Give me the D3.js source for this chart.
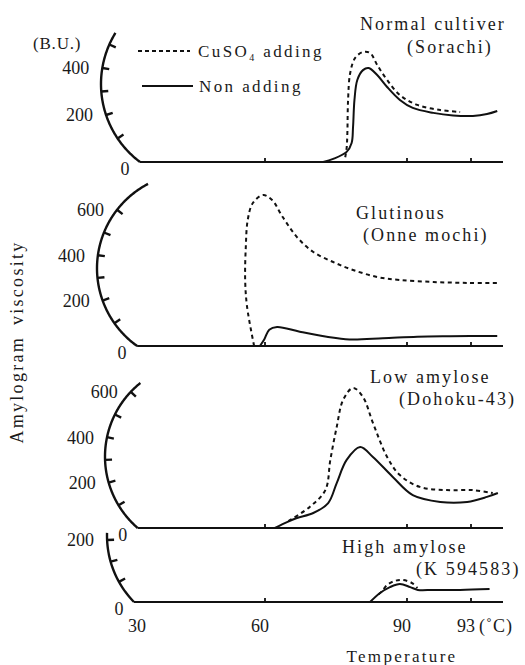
<!DOCTYPE html>
<html>
<head>
<meta charset="utf-8">
<script src="https://cdn.jsdelivr.net/npm/d3@7"></script>
<style>
  body { margin: 0; background: #fff; }
  text { font-family: "Liberation Serif", "Times New Roman", serif; fill: #1a1a1a; }
</style>
</head>
<body>
<script>
// x values are minutes of the amylograph run, labelled by temperature
var tickMinutes = [0, 20, 40, 50];
var tickLabels = ["30", "60", "90", "93"];

// [minute, B.U.]
var sorachiCu = [[31.3, 20], [31.5, 60], [31.6, 123], [31.7, 264], [32.0, 379], [32.7, 443], [33.8, 468], [34.8, 464], [35.8, 413], [37.2, 349], [39.0, 285], [41.6, 243], [45.2, 221], [48.3, 213]];
var sorachiNon = [[28.2, 0], [29.6, 13], [31.5, 43], [32.2, 81], [32.4, 149], [32.6, 264], [33.0, 349], [33.8, 391], [34.6, 400], [35.8, 370], [37.2, 319], [39.0, 264], [40.9, 230], [44.1, 209], [47.2, 198], [50.3, 196], [52.5, 204], [54.1, 217]];

var mochiCu = [[18.3, 0], [17.2, 172], [16.9, 291], [17.0, 436], [17.3, 555], [18.1, 630], [19.7, 665], [21.0, 643], [22.5, 568], [24.5, 480], [26.8, 414], [29.6, 370], [32.4, 335], [35.8, 304], [39.0, 291], [44.1, 282], [49.4, 278], [54.5, 278]];
var mochiNon = [[19.2, 0], [19.9, 30], [20.6, 72], [21.7, 84], [24.9, 63], [28.7, 41], [31.9, 29], [36.6, 34], [41.6, 41], [46.7, 43], [54.1, 44]];

var dohokuCu = [[23.3, 30], [26.3, 93], [28.5, 167], [29.2, 300], [30.1, 445], [31.0, 564], [32.4, 617], [33.8, 577], [35.2, 463], [37.2, 313], [39.0, 233], [42.0, 181], [46.2, 167], [50.3, 167], [53.4, 154]];
var dohokuNon = [[21.4, 0], [23.1, 26], [24.5, 44], [26.8, 66], [28.9, 110], [30.1, 198], [31.5, 300], [33.4, 357], [35.2, 313], [38.0, 225], [40.9, 145], [45.2, 115], [49.4, 115], [52.5, 137], [54.2, 154]];

var kCu = [[36.0, 25], [36.5, 35], [37.2, 55], [38.3, 68], [39.4, 71], [40.8, 61], [41.6, 45]];
var kNon = [[34.8, 0], [36.2, 29], [37.6, 48], [39.0, 58], [40.5, 48], [41.7, 39], [44.1, 39], [48.3, 39], [52.9, 42]];

// B.U. ticks along each curved axis
var ticks1 = [100, 200, 300, 400, 500], labels1 = [200, 400];
var ticks2 = [100, 200, 300, 400, 500, 600], labels2 = [200, 400, 600];
var ticks3 = [100, 200, 300, 400, 500, 600], labels3 = [200, 400, 600];
var ticks4 = [65, 130, 200], labels4 = [200];

var width = 525, height = 665;

var svg = d3.select("body").append("svg")
    .attr("width", width)
    .attr("height", height);

var x = d3.scaleLinear()
    .domain(tickMinutes)
    .range([137, 265, 407, 471]);

// layout of the four strips: baseline, where 200 B.U. sits, and the pen arc
var panels = [
  { base: 162, at200: 115, top: 549, cx: 198.5, cy: 84, r: 97.5, ticks: ticks1, labels: labels1, cu: sorachiCu, non: sorachiNon,
    name: ["Normal cultiver", "(Sorachi)"], nameX: [360, 407], nameY: [30, 53] },
  { base: 346, at200: 300.6, top: 714, cx: 192.3, cy: 268.3, r: 95.3, ticks: ticks2, labels: labels2, cu: mochiCu, non: mochiNon,
    name: ["Glutinous", "(Onne mochi)"], nameX: [356, 363], nameY: [219, 241] },
  { base: 528, at200: 482.6, top: 639, cx: 199.3, cy: 456.6, r: 94.3, ticks: ticks3, labels: labels3, cu: dohokuCu, non: dohokuNon,
    name: ["Low amylose", "(Dohoku-43)"], nameX: [370, 399], nameY: [383, 405] },
  { base: 602, at200: 540, top: 223, cx: 202, cy: 535.7, r: 95, ticks: ticks4, labels: labels4, cu: kCu, non: kNon,
    name: ["High amylose", "(K 594583)"], nameX: [342, 416], nameY: [553, 575] }
];

panels.forEach(function(p) {
  var y = d3.scaleLinear().domain([0, 200]).range([p.base, p.at200]);
  var g = svg.append("g");

  function arcX(v) {
    var dy = y(v) - p.cy;
    return p.cx - Math.sqrt(p.r * p.r - dy * dy);
  }
  function inward(v) {
    return Math.atan2(y(v) - p.cy, arcX(v) - p.cx);
  }

  // curved viscosity axis
  var arcPts = d3.range(0, p.top, 4).concat([p.top]);
  g.append("path")
    .datum(arcPts)
    .attr("fill", "none")
    .attr("stroke", "#111")
    .attr("stroke-width", 2.4)
    .attr("d", d3.line().x(function(v) { return arcX(v); }).y(function(v) { return y(v); }));

  g.selectAll(".tk").data(p.ticks).enter().append("line")
    .attr("class", "tk")
    .attr("stroke", "#111")
    .attr("stroke-width", 2.4)
    .attr("x1", function(v) { return arcX(v); })
    .attr("y1", function(v) { return y(v); })
    .attr("x2", function(v) { return arcX(v) - 7 * Math.cos(inward(v)); })
    .attr("y2", function(v) { return y(v) - 7 * Math.sin(inward(v)); });

  g.selectAll(".lb").data(p.labels).enter().append("text")
    .attr("class", "lb")
    .attr("x", function(v) { return arcX(v) - 13; })
    .attr("y", function(v) { return y(v); })
    .attr("dy", "0.35em")
    .attr("text-anchor", "end")
    .style("font-size", "18px")
    .text(function(v) { return v; });

  var x0 = arcX(0);
  g.append("text")
    .attr("x", x0 - 15)
    .attr("y", p.base + 7)
    .attr("dy", "0.35em")
    .attr("text-anchor", "middle")
    .style("font-size", "18px")
    .text("0");

  // baseline with temperature ticks
  g.append("line")
    .attr("x1", x0).attr("x2", x(55))
    .attr("y1", p.base).attr("y2", p.base)
    .attr("stroke", "#111").attr("stroke-width", 2);

  g.selectAll(".bt").data(tickMinutes.slice(1)).enter().append("line")
    .attr("class", "bt")
    .attr("x1", function(d) { return x(d); })
    .attr("x2", function(d) { return x(d); })
    .attr("y1", p.base + 1).attr("y2", p.base - 4)
    .attr("stroke", "#111").attr("stroke-width", 1.8);

  var line = d3.line()
    .x(function(d) { return x(d[0]); })
    .y(function(d) { return y(d[1]); })
    .curve(d3.curveCatmullRom.alpha(0.5));

  g.append("path")
    .datum(p.non)
    .attr("fill", "none")
    .attr("stroke", "#111")
    .attr("stroke-width", 2)
    .attr("d", line);

  g.append("path")
    .datum(p.cu)
    .attr("fill", "none")
    .attr("stroke", "#111")
    .attr("stroke-width", 2)
    .attr("stroke-dasharray", "4,3.5")
    .attr("d", line);

  p.name.forEach(function(s, i) {
    g.append("text")
      .attr("x", p.nameX[i])
      .attr("y", p.nameY[i])
      .style("font-size", "18px")
      .style("letter-spacing", "2.1px")
      .text(s);
  });
});

// unit and legend
svg.append("text")
  .attr("x", 33).attr("y", 49)
  .style("font-size", "17px")
  .style("letter-spacing", "0.8px")
  .text("(B.U.)");

svg.append("line")
  .attr("x1", 138).attr("x2", 190).attr("y1", 51).attr("y2", 51)
  .attr("stroke", "#111").attr("stroke-width", 2).attr("stroke-dasharray", "4,3");
var cuText = svg.append("text")
  .attr("x", 198).attr("y", 57)
  .style("font-size", "17px")
  .style("letter-spacing", "2.4px");
cuText.append("tspan").text("CuSO");
cuText.append("tspan").attr("dy", 4).style("font-size", "10px").text("4");
cuText.append("tspan").attr("dy", -4).text(" adding");

svg.append("line")
  .attr("x1", 142).attr("x2", 193).attr("y1", 86).attr("y2", 86)
  .attr("stroke", "#111").attr("stroke-width", 2);
svg.append("text")
  .attr("x", 199).attr("y", 92)
  .style("font-size", "17px")
  .style("letter-spacing", "2.4px")
  .text("Non adding");

// temperature axis labels
svg.selectAll(".xl").data(tickMinutes).enter().append("text")
  .attr("class", "xl")
  .attr("x", function(d, i) { return x(d) - (i === 0 ? 0 : 5); })
  .attr("y", 632)
  .attr("text-anchor", "middle")
  .style("font-size", "18px")
  .text(function(d, i) { return tickLabels[i]; });

svg.append("text")
  .attr("x", 479).attr("y", 632)
  .style("font-size", "18px")
  .style("letter-spacing", "1px")
  .text("(\u02DAC)");

svg.append("text")
  .attr("x", 402).attr("y", 662)
  .attr("text-anchor", "middle")
  .style("font-size", "17px")
  .style("letter-spacing", "2.3px")
  .text("Temperature");

svg.append("text")
  .attr("transform", "translate(23,342) rotate(-90)")
  .attr("text-anchor", "middle")
  .style("font-size", "18px")
  .style("letter-spacing", "2.3px")
  .style("word-spacing", "4px")
  .text("Amylogram viscosity");
</script>
</body>
</html>
